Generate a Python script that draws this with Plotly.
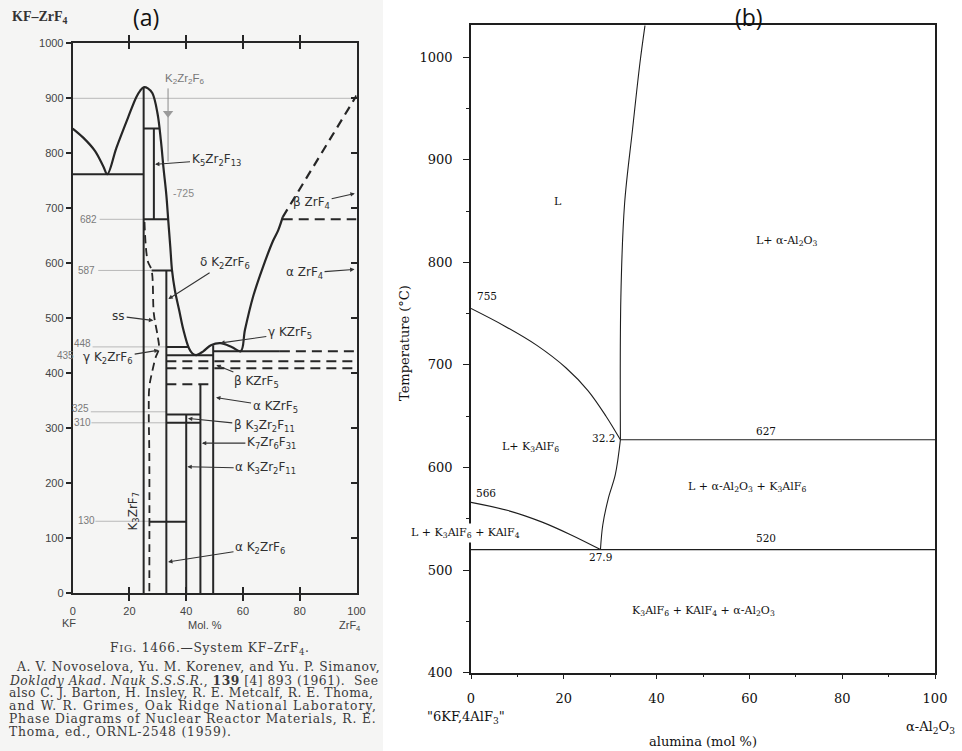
import plotly.graph_objects as go

W, H = 962, 751

# ---------------- (a) KF-ZrF4 (mol % ZrF4, deg C) ----------------
kf_liq_x = [0, 3.8, 7.9, 10.8, 12.2, 15.4, 19.5, 22.4, 23.8, 25.0, 26.5, 28.1, 29.9, 31.1, 32.0,
            33.0, 33.7, 34.4, 35.0, 36.0, 37.5, 39.0, 41.0, 42.2, 43.5, 46.0, 48.7, 52.0, 56.0,
            59.2, 60.7, 63.6, 67.1, 70.6, 72.4, 74.0]
kf_liq_t = [845, 828, 804, 776, 762, 810, 865, 902, 914, 920, 918, 909, 872, 822, 773,
            724, 676, 629, 587, 551, 515, 479, 445, 436, 433, 440, 451, 455, 448,
            440, 479, 540, 594, 641, 660, 684]
zrf4_liq_x = [74.0, 100]
zrf4_liq_t = [684, 905]

ss_x = [25.3, 26.4, 27.8, 28.6, 30.0, 30.4, 29.3, 28.1, 27.0, 26.8, 27.0, 27.0]
ss_t = [675, 605, 587, 508, 466, 445, 430, 405, 375, 330, 250, 0]

kf_iso_t = [762, 845, 680, 587, 448, 433, 440, 325, 310, 130]
kf_iso_x0 = [0, 25, 25, 27.8, 33.0, 33.0, 49.5, 33.0, 33.0, 27.0]
kf_iso_x1 = [25, 30.5, 33.8, 35.0, 41.0, 49.5, 73.0, 45.0, 45.0, 40.0]

kf_dash_t = [440, 422, 409, 380, 680]
kf_dash_x0 = [73.0, 33.0, 33.0, 33.0, 74.0]
kf_dash_x1 = [100, 100, 100, 49.5, 100]

kf_comp_x = [25, 28.6, 33.0, 40, 45, 49.5]
kf_comp_t0 = [0, 680, 0, 0, 0, 0]
kf_comp_t1 = [920, 845, 587, 325, 380, 451]

guide_t = [900, 680, 587, 448, 330, 310, 131]
guide_x0 = [0, 9.5, 9.0, 7.0, 6.4, 6.6, 8.0]
guide_x1 = [100, 25, 27.8, 33.0, 33.0, 33.0, 27.0]

hand_lbl = ["682", "587", "448", "435", "325", "310", "130"]
hand_lbl_x = [5.6, 4.7, 3.5, 0.0, 2.7, 3.3, 4.7]
hand_lbl_t = [679, 587, 455, 433, 336, 310, 133]

kf_ticks_x = [0, 20, 40, 60, 80, 100]
kf_ticks_t = list(range(0, 1001, 100))

# ---------------- (b) "6KF,4AlF3" - alumina ----------------
al_liq_x = [32.2, 32.3, 33.1, 34.8, 36.4, 37.5]
al_liq_t = [627, 766, 857, 929, 994, 1031]
al_k3_x = [0, 7.2, 14.2, 20.5, 25.2, 29.1, 32.2]
al_k3_t = [755, 738, 719, 697, 675, 650, 627]
al_mid_x = [32.2, 31.1, 29.6, 28.4, 27.9]
al_mid_t = [627, 593, 570, 544, 520]
al_low_x = [0, 8, 15.2, 21.7, 27.9]
al_low_t = [566, 558, 547, 534, 520]
al_iso_t = [627, 520]
al_iso_x0 = [32.2, 0]
al_iso_x1 = [100, 100]

al_ticks_x = [0, 20, 40, 60, 80, 100]
al_ticks_t = [400, 500, 600, 700, 800, 900, 1000]


def X(px):
    return px / W


def Y(py):
    return 1 - py / H


def segs(x0s, x1s, ts):
    xs, ys = [], []
    for a, b, t in zip(x0s, x1s, ts):
        xs += [a, b, None]
        ys += [t, t, None]
    return xs, ys


def vsegs(xs_, t0s, t1s):
    xs, ys = [], []
    for x, a, b in zip(xs_, t0s, t1s):
        xs += [x, x, None]
        ys += [a, b, None]
    return xs, ys


INK = "#262626"
fig = go.Figure()

# (a) traces
gx, gy = segs(guide_x0, guide_x1, guide_t)
fig.add_trace(go.Scatter(x=gx, y=gy, mode="lines", line=dict(color="#b8b8b8", width=1),
                         xaxis="x", yaxis="y", hoverinfo="skip"))
fig.add_trace(go.Scatter(x=kf_liq_x, y=kf_liq_t, mode="lines", line=dict(color=INK, width=2.2),
                         line_shape="spline", xaxis="x", yaxis="y"))
fig.add_trace(go.Scatter(x=zrf4_liq_x, y=zrf4_liq_t, mode="lines",
                         line=dict(color=INK, width=2.2, dash="9px,6px"), xaxis="x", yaxis="y"))
fig.add_trace(go.Scatter(x=ss_x, y=ss_t, mode="lines", line_shape="spline",
                         line=dict(color=INK, width=1.8, dash="8px,5px"), xaxis="x", yaxis="y"))
ix, iy = segs(kf_iso_x0, kf_iso_x1, kf_iso_t)
fig.add_trace(go.Scatter(x=ix, y=iy, mode="lines", line=dict(color=INK, width=2),
                         xaxis="x", yaxis="y"))
dx, dy = segs(kf_dash_x0, kf_dash_x1, kf_dash_t)
fig.add_trace(go.Scatter(x=dx, y=dy, mode="lines", line=dict(color=INK, width=2, dash="10px,6px"),
                         xaxis="x", yaxis="y"))
cx, cy = vsegs(kf_comp_x, kf_comp_t0, kf_comp_t1)
fig.add_trace(go.Scatter(x=cx, y=cy, mode="lines", line=dict(color=INK, width=2),
                         xaxis="x", yaxis="y"))
# handwritten arrow at K2ZrF6
fig.add_trace(go.Scatter(x=[33.6, 33.6], y=[918, 785], mode="lines",
                         line=dict(color="#8a8a8a", width=1), xaxis="x", yaxis="y"))
fig.add_trace(go.Scatter(x=[33.6], y=[873], mode="markers",
                         marker=dict(symbol="triangle-down", size=9, color="#9a9a9a"),
                         xaxis="x", yaxis="y"))

# (b) traces
BINK = "#1e1e1e"
for xs, ts in [(al_liq_x, al_liq_t), (al_k3_x, al_k3_t), (al_mid_x, al_mid_t), (al_low_x, al_low_t)]:
    fig.add_trace(go.Scatter(x=xs, y=ts, mode="lines", line_shape="spline",
                             line=dict(color=BINK, width=1.1), xaxis="x2", yaxis="y2"))
bx, by = segs(al_iso_x0, al_iso_x1, al_iso_t)
fig.add_trace(go.Scatter(x=bx, y=by, mode="lines", line=dict(color=BINK, width=1.1),
                         xaxis="x2", yaxis="y2"))

sans = "Liberation Sans"
lblfont = dict(family="DejaVu Sans", size=12, color="#303030")
serif_b = "DejaVu Serif"

ann = []


def pnote(x, y, text, **kw):
    d = dict(x=X(x), y=Y(y), xref="paper", yref="paper", text=text, showarrow=False,
             xanchor="center", yanchor="middle")
    d.update(kw)
    ann.append(d)


def alabel(text, tx, tt, hx, ht):
    ann.append(dict(x=hx, y=ht, ax=tx, ay=tt, xref="x", yref="y", axref="x", ayref="y",
                    text=text, showarrow=True, arrowhead=2, arrowsize=0.8, arrowwidth=1.1,
                    arrowcolor="#333", font=lblfont))


alabel("K<sub>5</sub>Zr<sub>2</sub>F<sub>13</sub>", 50.5, 788, 29.0, 780)
alabel("δ K<sub>2</sub>ZrF<sub>6</sub>", 53.5, 600, 33.7, 535)
alabel("ss", 16.2, 504, 28.4, 496)
alabel("γ KZrF<sub>5</sub>", 76.5, 473, 52.0, 455)
alabel("γ K<sub>2</sub>ZrF<sub>6</sub>", 12.5, 427, 30.3, 442)
alabel("β KZrF<sub>5</sub>", 64.8, 385, 50.6, 415)
alabel("α KZrF<sub>5</sub>", 71.3, 339, 50.5, 356)
alabel("β K<sub>3</sub>Zr<sub>2</sub>F<sub>11</sub>", 67.5, 304, 40.6, 318)
alabel("K<sub>7</sub>Zr<sub>6</sub>F<sub>31</sub>", 70.0, 273, 45.5, 273)
alabel("α K<sub>3</sub>Zr<sub>2</sub>F<sub>11</sub>", 68.0, 227, 40.4, 230)
alabel("α K<sub>2</sub>ZrF<sub>6</sub>", 66.0, 83, 33.6, 57)
alabel("β ZrF<sub>4</sub>", 84.2, 709, 99.4, 727)
alabel("α ZrF<sub>4</sub>", 81.7, 582, 99.3, 589)
ann.append(dict(x=21.5, y=150, xref="x", yref="y", text="K<sub>3</sub>ZrF<sub>7</sub>",
                textangle=-90, showarrow=False, font=lblfont))
ann.append(dict(x=39.5, y=936, xref="x", yref="y", text="K<sub>2</sub>Zr<sub>2</sub>F<sub>6</sub>",
                showarrow=False, font=dict(family=sans, size=11.5, color="#777")))
ann.append(dict(x=39, y=728, xref="x", yref="y", text="-725",
                showarrow=False, font=dict(family=sans, size=10.5, color="#888")))
for t, x, y in zip(hand_lbl, hand_lbl_x, hand_lbl_t):
    shift = -7 if x <= 0 else 0
    ann.append(dict(x=x, y=y, xref="x", yref="y", text=t, showarrow=False, xshift=shift,
                    font=dict(family=sans, size=10, color="#7a7a7a")))

# (a) page texts
pnote(40, 17, "<b>KF–ZrF<sub>4</sub></b>", font=dict(family="Liberation Serif", size=14, color="#333"))
pnote(146, 17, "(a)", font=dict(family="Open Sans", size=23, color="#111"))
pnote(69, 623, "KF", font=dict(family=sans, size=11, color="#444"))
pnote(205, 625, "Mol. %", font=dict(family=sans, size=11, color="#444"))
pnote(350, 626, "ZrF<sub>4</sub>", font=dict(family=sans, size=11, color="#444"))
capfont = dict(family="DejaVu Serif", size=12.3, color="#3a3a3a")
pnote(210, 649, "<span style='letter-spacing:0.7px'>F<span style='font-size:10px'>IG</span>. 1466.—System KF–ZrF<sub>4</sub>.</span>",
      font=capfont, borderpad=0)
cap_lines = [
    "A. V. Novoselova, Yu. M. Korenev, and Yu. P. Simanov,",
    "<i>Doklady Akad. Nauk S.S.S.R.</i>, <b>139</b> [4] 893 (1961).  See",
    "also C. J. Barton, H. Insley, R. E. Metcalf, R. E. Thoma,",
    "and W. R. Grimes, Oak Ridge National Laboratory,",
    "Phase Diagrams of Nuclear Reactor Materials, R. E.",
    "Thoma, ed., ORNL-2548 (1959).",
]
cap_y = [667, 680, 693, 706, 719, 732]
cap_spacing = [0.6, 0.5, 0.45, 1.15, 0.85, 0.8]
for i, (line, yy, ls) in enumerate(zip(cap_lines, cap_y, cap_spacing)):
    pnote(15 if i == 0 else 8, yy, "<span style='letter-spacing:%.2fpx'>%s</span>" % (ls, line),
          xanchor="left", font=capfont, borderpad=0)

# (b) labels
bfont = dict(family=serif_b, size=11, color="#111")
nfont = dict(family=serif_b, size=10.5, color="#111")


def blabel(text, x, t, font, **kw):
    d = dict(x=x, y=t, xref="x2", yref="y2", text=text, showarrow=False, font=font)
    d.update(kw)
    ann.append(d)


blabel("L", 18.7, 859, bfont)
blabel("L+ α-Al<sub>2</sub>O<sub>3</sub>", 68.0, 821, bfont)
blabel("755", 0.8, 767, nfont, xanchor="left")
blabel("627", 63.5, 636, nfont)
blabel("32.2", 31.4, 629, nfont, xanchor="right")
blabel("L+ K<sub>3</sub>AlF<sub>6</sub>", 12.8, 620, bfont)
blabel("566", 0.6, 575, nfont, xanchor="left")
blabel("L + α-Al<sub>2</sub>O<sub>3</sub> + K<sub>3</sub>AlF<sub>6</sub>", 59.4, 581, bfont)
blabel("L + K<sub>3</sub>AlF<sub>6</sub> + KAlF<sub>4</sub>", 0, 536, bfont, xshift=-6,
       bgcolor="white", borderpad=2)
blabel("520", 63.5, 531, nfont)
blabel("27.9", 27.9, 513, nfont)
blabel("K<sub>3</sub>AlF<sub>6</sub> + KAlF<sub>4</sub> + α-Al<sub>2</sub>O<sub>3</sub>", 50.0, 460, bfont)

axfont_b = dict(family=serif_b, size=13, color="#111")
pnote(749, 17, "(b)", font=dict(family="Open Sans", size=23, color="#111"))
pnote(404, 343, "Temperature (°C)", textangle=-90, font=axfont_b)
pnote(703, 741, "alumina (mol %)", font=axfont_b)
pnote(466, 717, "\"6KF,4AlF<sub>3</sub>\"", font=axfont_b)
pnote(930, 727, "α-Al<sub>2</sub>O<sub>3</sub>", font=axfont_b)

tickfont_a = dict(family=sans, size=11, color="#444")
fig.update_layout(
    width=W, height=H, autosize=False,
    margin=dict(l=0, r=0, t=0, b=0, autoexpand=False),
    paper_bgcolor="white", plot_bgcolor="rgba(0,0,0,0)",
    showlegend=False,
    shapes=[dict(type="rect", xref="paper", yref="paper", x0=0, x1=X(383), y0=0, y1=1,
                 fillcolor="#f5f5f4", line=dict(width=0), layer="below")],
    xaxis=dict(domain=[X(72.7), X(356.5)], range=[0, 100], tickvals=kf_ticks_x,
               ticks="inside", ticklen=6, tickwidth=1.5, tickcolor=INK, mirror="allticks",
               showline=True, linewidth=2, linecolor=INK, showgrid=False, zeroline=False,
               tickfont=tickfont_a, ticklabelstandoff=6),
    yaxis=dict(domain=[Y(593.3), Y(43.3)], range=[0, 1000], tickvals=kf_ticks_t,
               ticks="outside", ticklen=5, tickwidth=1.5, tickcolor=INK, mirror=True,
               showline=True, linewidth=2, linecolor=INK, showgrid=False, zeroline=False,
               tickfont=tickfont_a, ticklabelstandoff=0),
    yaxis3=dict(overlaying="y", anchor="x", side="right", range=[0, 1000], tickvals=kf_ticks_t,
                ticks="inside", ticklen=6, tickwidth=1.5, tickcolor=INK, showticklabels=False,
                showline=False, showgrid=False, zeroline=False),
    xaxis2=dict(domain=[X(471), X(935)], range=[0, 100], tickvals=al_ticks_x, anchor="y2",
                ticks="outside", ticklen=5, tickcolor=BINK, mirror=True,
                minor=dict(ticks="outside", ticklen=3, dtick=10, tick0=0, tickcolor=BINK),
                showline=True, linewidth=1.5, linecolor=BINK, showgrid=False, zeroline=False,
                tickfont=axfont_b, ticklabelstandoff=8),
    yaxis2=dict(domain=[Y(672.7), Y(25.3)], range=[400, 1031], tickvals=al_ticks_t,
                anchor="x2", ticks="outside", ticklen=6, tickcolor=BINK, mirror=True,
                minor=dict(ticks="outside", ticklen=3, dtick=50, tick0=0, tickcolor=BINK),
                showline=True, linewidth=1.5, linecolor=BINK, showgrid=False, zeroline=False,
                tickfont=axfont_b, ticklabelstandoff=8),
    annotations=ann,
)
# keep the overlay axis alive with an empty trace
fig.add_trace(go.Scatter(x=[None], y=[None], xaxis="x", yaxis="y3"))

# drop the default body margin so the 962x751 figure fills the page exactly
fig.write_html("out.html", config={"displayModeBar": False},
               post_script="document.body.style.margin='0px';")
